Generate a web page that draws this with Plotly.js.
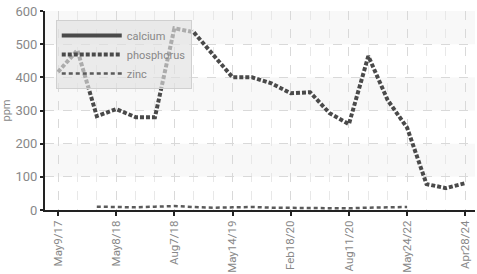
<!DOCTYPE html>
<html><head><meta charset="utf-8">
<script src="https://cdn.plot.ly/plotly-3.0.1.min.js"></script>
<style>html,body{margin:0;padding:0;background:#fff}#chart{width:477px;height:274px}</style>
</head><body><div id="chart"></div>
<script>
const idx = [0,1,2,3,4,5,6,7,8,9,10,11,12,13,14,15,16,17,18,19,20,21];
const tickIdx = [0,3,6,9,12,15,18,21];
const tickLabels = ["May9/17","May8/18","Aug7/18","May14/19","Feb18/20","Aug11/20","May24/22","Apr28/24"];
const calcium = [null,null,null,null,null,null,null,null,null,null,null,null,null,null,null,null,null,null,null,null,null,null];
const phosphorus = [416,482,283,304,280,280,548,536,468,400,400,382,352,355,292,259,464,331,248,78,66,81];
const zinc = [null,null,10,9,8,10,12,9,7,8,9,7,6,7,6,5,7,8,9,null,null,null];
const bands = [[100,200],[300,400],[500,600]];

const font = "Roboto, sans-serif";
const shapes = bands.map(b => ({type:'rect', xref:'paper', yref:'y', x0:0, x1:1, y0:b[0], y1:b[1],
  fillcolor:'#f8f8f8', line:{width:0}, layer:'below'}));

const traces = [
  {x:idx, y:calcium, name:'calcium', mode:'lines', line:{color:'#4a4a4a', width:4}},
  {x:idx, y:phosphorus, name:'phosphorus', mode:'lines', line:{color:'#4a4a4a', width:4, dash:'4px,2px'}},
  {x:idx, y:zinc, name:'zinc', mode:'lines', line:{color:'#5a5a5a', width:2.5, dash:'4px,3px'}}
];
const layout = {
  width:477, height:274, margin:{l:45, r:2, t:11, b:64},
  paper_bgcolor:'#fff', plot_bgcolor:'#fff', shapes:shapes,
  font:{family:font, color:'#888', size:12},
  xaxis:{range:[-0.67,21.5], tickvals:tickIdx, ticktext:tickLabels, tickangle:-90,
    showgrid:true, gridcolor:'#d9d9d9', griddash:'dash', gridwidth:1,
    minor:{dtick:1, tick0:0, showgrid:true, gridcolor:'#e8e8e8', griddash:'dash', ticks:''},
    ticks:'outside', ticklen:4, tickcolor:'#222', tickwidth:2,
    showline:true, linecolor:'#222', linewidth:2, zeroline:false,
    tickfont:{size:11.5, color:'#888', family:font}},
  yaxis:{range:[0,600], dtick:100, title:{text:'ppm', font:{size:11, color:'#888'}, standoff:10},
    showgrid:true, gridcolor:'#d9d9d9', griddash:'dash', gridwidth:1,
    ticks:'outside', ticklen:3, tickcolor:'#222', tickwidth:2,
    showline:true, linecolor:'#222', linewidth:2, zeroline:false,
    tickfont:{size:13, color:'#888', family:font}},
  showlegend:true,
  legend:{x:0.025, y:0.955, xanchor:'left', yanchor:'top', bgcolor:'rgba(225,225,225,0.65)',
    bordercolor:'#d0d0d0', borderwidth:1, itemwidth:60, tracegroupgap:0,
    font:{size:11, color:'#888', family:font}}
};
Plotly.newPlot('chart', traces, layout, {displayModeBar:false, staticPlot:true});
</script></body></html>
